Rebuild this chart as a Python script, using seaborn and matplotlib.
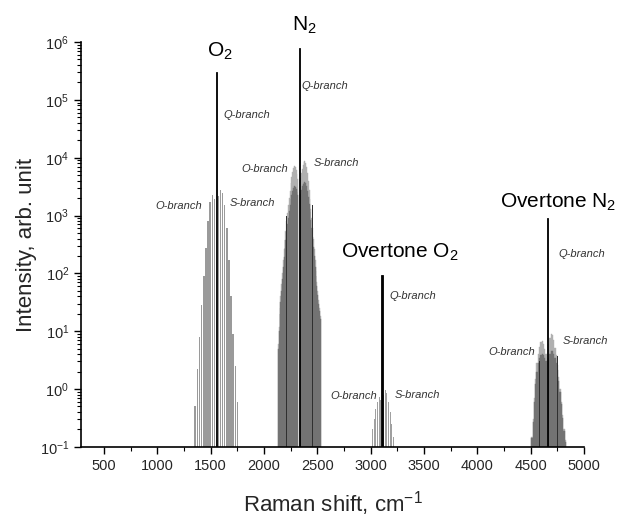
import numpy as np
import pandas as pd
import seaborn as sns
import matplotlib.pyplot as plt
from matplotlib.ticker import MultipleLocator, LogLocator

# --- Q-branch lines (Raman shift, cm-1 / intensity) ---
q_shift = [1552, 2331, 3107, 4656]
q_int = [3.0e5, 8.0e5, 95, 900]

# --- O2 fundamental, O and S branches ---
o2_shift = [1356, 1376, 1396, 1416, 1436, 1456, 1476, 1496, 1516, 1536,
            1572, 1592, 1612, 1632, 1652, 1672, 1692, 1712, 1732, 1752]
o2_int = [0.5, 2.2, 8, 28, 90, 280, 800, 1700, 2300, 1900,
          2200, 2800, 2500, 1500, 600, 170, 40, 9, 2.5, 0.6]

# --- N2 fundamental, O and S branches (strong / weak lines) ---
n2_shift = [2134, 2142, 2150, 2158, 2166, 2174, 2182, 2190, 2198, 2206, 2214, 2222,
            2230, 2238, 2246, 2254, 2262, 2270, 2278, 2286, 2294, 2302, 2310, 2318,
            2344, 2352, 2360, 2368, 2376, 2384, 2392, 2400, 2408, 2416, 2424, 2432,
            2440, 2448, 2456, 2464, 2472, 2480, 2488, 2496, 2504, 2512, 2520, 2528]
n2_strong = [6, 12, 25, 40, 65, 100, 170, 260, 380, 550, 800, 1100,
             1500, 2000, 2700, 3600, 4600, 5600, 6600, 7200, 7000, 6200, 5200, 4200,
             4500, 5500, 6500, 7500, 8300, 8600, 8200, 7000, 5500, 4000, 2800, 1900,
             1300, 900, 600, 400, 260, 170, 110, 70, 50, 35, 25, 18]
n2_weak = [5, 10, 20, 32, 50, 80, 130, 190, 270, 380, 520, 700,
           900, 1200, 1500, 1900, 2300, 2700, 3000, 3200, 3100, 2900, 2600, 2300,
           2400, 2800, 3200, 3500, 3700, 3800, 3600, 3200, 2700, 2100, 1600, 1150,
           850, 600, 420, 290, 200, 130, 90, 60, 42, 30, 22, 16]
n2_mark_shift = [2208, 2456]
n2_mark_int = [1000, 1500]

# --- O2 overtone ---
ovo2_shift = [3018, 3034, 3050, 3066, 3082, 3096,
              3120, 3136, 3152, 3168, 3184, 3200, 3216]
ovo2_int = [0.2, 0.3, 0.45, 0.6, 0.72, 0.65,
            0.8, 0.95, 0.85, 0.6, 0.4, 0.25, 0.15]

# --- N2 overtone (strong / weak lines) ---
ovn2_shift = [4512, 4524, 4536, 4548, 4560, 4572, 4584, 4596, 4608, 4620, 4632, 4644,
              4668, 4680, 4692, 4704, 4716, 4728, 4740, 4752, 4764, 4776, 4788, 4800,
              4812, 4824]
ovn2_strong = [0.15, 0.3, 0.7, 1.5, 2.8, 4.0, 5.3, 6.5, 6.8, 6.0, 5.0, 4.0,
               6.0, 7.5, 8.8, 8.5, 7.0, 5.2, 3.8, 2.6, 1.6, 1.0, 0.6, 0.35, 0.2, 0.13]
ovn2_weak = [0.14, 0.27, 0.6, 1.2, 2.0, 2.8, 3.4, 3.9, 4.1, 3.9, 3.5, 3.0,
             3.4, 4.0, 4.5, 4.5, 4.0, 3.4, 2.8, 2.1, 1.4, 0.9, 0.55, 0.32, 0.19, 0.12]
ovn2_mark_shift = [4581, 4750]
ovn2_mark_int = [3.0, 3.7]

# --- annotations ---
mol_labels = ["O$_2$", "N$_2$", "Overtone O$_2$", "Overtone N$_2$"]
mol_x = [1465, 2265, 2718, 4214]
mol_y = [5.5e5, 1.6e6, 186, 1380]

branch_labels = ["Q-branch", "O-branch", "S-branch"] * 4
branch_x = [1616, 1418, 1681, 2356, 2225, 2469, 3181, 3059, 3228, 4757, 4541, 4803]
branch_y = [5.5e4, 1450, 1620, 1.74e5, 6500, 8100, 40, 0.76, 0.79, 214, 4.4, 6.8]
branch_ha = ["left", "right", "left"] * 4

sns.set_theme(style="ticks")
plt.rcParams['font.family'] = ['Liberation Sans', 'DejaVu Sans']
plt.rcParams['mathtext.default'] = 'regular'

fig = plt.figure(figsize=(6.18, 5.19), dpi=100)
ax = fig.add_axes([0.131, 0.139, 0.814, 0.780])
ax.set_yscale('log')


def stems(x, y, color, width, lw=0.0):
    df = pd.DataFrame({"shift": x, "intensity": y})
    sns.barplot(data=df, x="shift", y="intensity", native_scale=True, ax=ax,
                color=color, saturation=1, width=width, errorbar=None,
                edgecolor=color, linewidth=lw)


stems(o2_shift, o2_int, "#9a9a9a", 0.72)
stems(ovo2_shift, ovo2_int, "#a0a0a0", 0.7)
stems(n2_shift, n2_strong, "#b0b0b0", 1.0, 0.3)
stems(n2_shift, n2_weak, "#737373", 1.0, 0.3)
stems(n2_mark_shift, n2_mark_int, "#303030", 0.03)
stems(ovn2_shift, ovn2_strong, "#b0b0b0", 1.0, 0.3)
stems(ovn2_shift, ovn2_weak, "#737373", 1.0, 0.3)
stems(ovn2_mark_shift, ovn2_mark_int, "#303030", 0.05)
for qx, qy in zip(q_shift, q_int):
    stems([qx], [qy], "black", 11, 0.6)

for t, x, y in zip(mol_labels, mol_x, mol_y):
    ax.text(x, y, t, fontsize=15, ha="left", va="baseline", color="black", clip_on=False)
for t, x, y, ha in zip(branch_labels, branch_x, branch_y, branch_ha):
    ax.text(x, y, t, fontsize=8, style="italic", ha=ha, va="center", color="#333333")

ax.set_xlim(285, 5000)
ax.set_ylim(0.1, 1e6)
ax.set_xticks(np.arange(500, 5001, 500))
ax.xaxis.set_minor_locator(MultipleLocator(250))
ax.yaxis.set_major_locator(LogLocator(base=10, numticks=10))
ax.yaxis.set_minor_locator(LogLocator(base=10, subs=np.arange(2, 10), numticks=10))
ax.tick_params(axis="both", which="major", labelsize=10.5, length=5, width=1, color="black")
ax.tick_params(axis="both", which="minor", length=3, width=0.8, color="black")
for s in ["left", "bottom"]:
    ax.spines[s].set_linewidth(1.2)
    ax.spines[s].set_color("black")
sns.despine(ax=ax)

ax.set_xlabel("Raman shift, cm$^{-1}$", fontsize=16, labelpad=12)
ax.set_ylabel("Intensity, arb. unit", fontsize=16, labelpad=2)

fig.savefig("out.png", dpi=100)
